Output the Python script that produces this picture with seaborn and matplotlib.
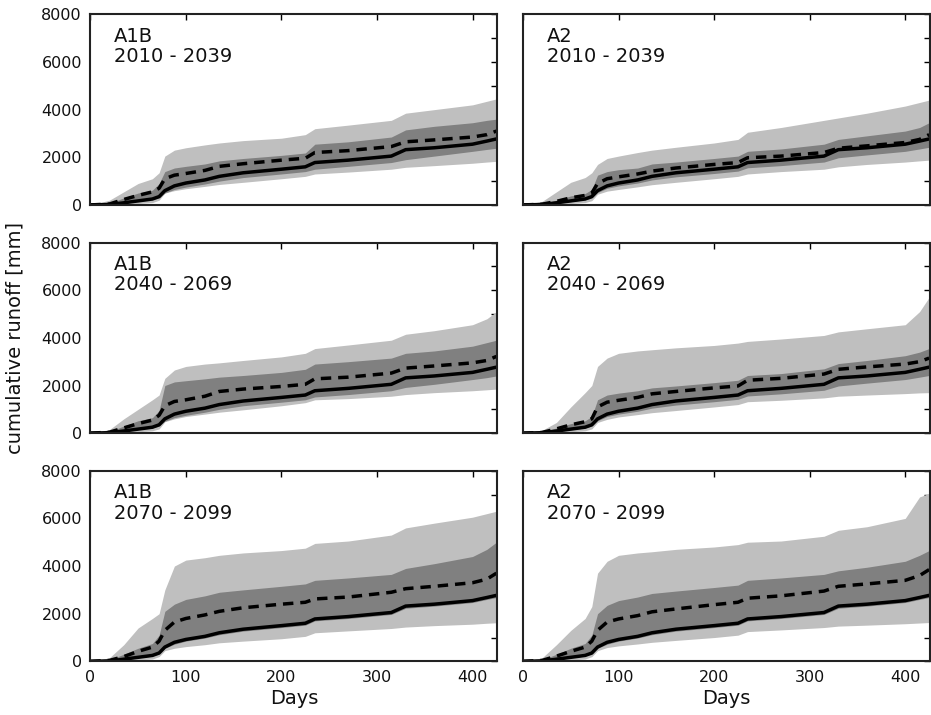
import numpy as np
import pandas as pd
import seaborn as sns
import matplotlib.pyplot as plt

# Day grid the curves were read on
days = [0, 20, 35, 50, 65, 72, 78, 88, 100, 120, 135, 160, 200, 225, 235, 270, 315, 330, 360, 400, 415, 425]

# Reference (observed) cumulative runoff, same in every panel
baseline = [0, 20, 90, 170, 250, 350, 600, 800, 920, 1050, 1200, 1350, 1500, 1600, 1780, 1880, 2050, 2320, 2400, 2550, 2680, 2770]

# A1B 2010-2039
a1b_2010_med = [0, 40, 230, 400, 550, 700, 1100, 1250, 1320, 1450, 1620, 1730, 1880, 1960, 2200, 2280, 2450, 2650, 2730, 2850, 2950, 3100]
a1b_2010_in_hi = [0, 60, 300, 500, 620, 900, 1400, 1550, 1620, 1720, 1850, 1950, 2080, 2180, 2550, 2650, 2850, 3150, 3300, 3450, 3550, 3600]
a1b_2010_in_lo = [0, 10, 60, 150, 220, 300, 500, 650, 750, 880, 1000, 1150, 1300, 1400, 1500, 1620, 1780, 1900, 2050, 2250, 2330, 2380]
a1b_2010_out_hi = [0, 200, 550, 900, 1100, 1350, 2050, 2300, 2400, 2520, 2600, 2700, 2800, 2950, 3200, 3350, 3550, 3850, 4000, 4200, 4350, 4450]
a1b_2010_out_lo = [0, 0, 20, 60, 100, 200, 500, 600, 680, 780, 860, 950, 1100, 1200, 1300, 1380, 1500, 1580, 1650, 1750, 1800, 1830]

# A2 2010-2039
a2_2010_med = [0, 30, 150, 300, 400, 500, 900, 1100, 1180, 1300, 1420, 1550, 1700, 1780, 1980, 2050, 2200, 2380, 2480, 2620, 2750, 2950]
a2_2010_in_hi = [0, 40, 200, 380, 480, 650, 1250, 1400, 1480, 1550, 1720, 1800, 1950, 2050, 2250, 2350, 2550, 2750, 2900, 3100, 3250, 3450]
a2_2010_in_lo = [0, 10, 60, 140, 220, 300, 520, 700, 800, 920, 1050, 1180, 1320, 1420, 1560, 1650, 1800, 1980, 2100, 2250, 2350, 2420]
a2_2010_out_hi = [0, 150, 550, 950, 1150, 1350, 1700, 1950, 2050, 2200, 2300, 2420, 2600, 2750, 3050, 3250, 3550, 3650, 3850, 4150, 4300, 4400]
a2_2010_out_lo = [0, 0, 20, 60, 100, 180, 450, 580, 650, 760, 850, 950, 1100, 1200, 1300, 1400, 1500, 1600, 1700, 1800, 1850, 1880]

# A1B 2040-2069
a1b_2040_med = [0, 40, 220, 400, 550, 750, 1150, 1330, 1400, 1550, 1750, 1850, 1960, 2050, 2280, 2350, 2520, 2730, 2820, 2950, 3050, 3220]
a1b_2040_in_hi = [0, 60, 300, 520, 650, 950, 2000, 2150, 2200, 2280, 2350, 2420, 2550, 2680, 2900, 3000, 3150, 3350, 3450, 3650, 3800, 3900]
a1b_2040_in_lo = [0, 10, 60, 150, 220, 300, 500, 650, 750, 880, 1000, 1150, 1300, 1400, 1520, 1620, 1780, 1920, 2050, 2250, 2330, 2400]
a1b_2040_out_hi = [0, 150, 600, 1000, 1400, 1600, 2300, 2650, 2800, 2900, 2950, 3050, 3200, 3350, 3550, 3700, 3900, 4150, 4300, 4550, 4800, 5100]
a1b_2040_out_lo = [0, 0, 20, 60, 100, 180, 480, 600, 700, 800, 880, 980, 1150, 1280, 1400, 1450, 1550, 1620, 1700, 1780, 1820, 1850]

# A2 2040-2069
a2_2040_med = [0, 30, 180, 350, 480, 600, 1100, 1300, 1380, 1500, 1650, 1750, 1900, 1980, 2220, 2300, 2480, 2680, 2780, 2900, 3000, 3150]
a2_2040_in_hi = [0, 40, 220, 400, 520, 700, 1400, 1600, 1680, 1780, 1900, 1980, 2120, 2220, 2420, 2500, 2700, 2920, 3050, 3250, 3400, 3550]
a2_2040_in_lo = [0, 10, 60, 140, 220, 300, 520, 700, 800, 920, 1050, 1180, 1320, 1420, 1560, 1650, 1800, 1980, 2100, 2250, 2350, 2420]
a2_2040_out_hi = [0, 120, 450, 1100, 1700, 2000, 2800, 3150, 3350, 3450, 3500, 3580, 3680, 3780, 3850, 3950, 4100, 4250, 4380, 4550, 5100, 5700]
a2_2040_out_lo = [0, 0, 20, 60, 100, 180, 450, 580, 680, 780, 860, 950, 1100, 1200, 1320, 1380, 1480, 1550, 1600, 1660, 1690, 1700]

# A1B 2070-2099
a1b_2070_med = [0, 40, 200, 420, 600, 850, 1300, 1650, 1800, 1950, 2100, 2250, 2400, 2480, 2620, 2700, 2900, 3050, 3150, 3300, 3450, 3700]
a1b_2070_in_hi = [0, 60, 300, 550, 750, 1100, 2100, 2400, 2600, 2750, 2900, 3000, 3150, 3250, 3400, 3500, 3650, 3900, 4100, 4400, 4700, 5000]
a1b_2070_in_lo = [0, 10, 60, 150, 220, 320, 550, 720, 850, 980, 1120, 1270, 1420, 1520, 1700, 1800, 1970, 2230, 2320, 2470, 2600, 2680]
a1b_2070_out_hi = [0, 150, 700, 1400, 1800, 2000, 3000, 4000, 4250, 4350, 4450, 4550, 4650, 4750, 4950, 5050, 5300, 5600, 5800, 6050, 6200, 6300]
a1b_2070_out_lo = [0, 0, 20, 60, 100, 200, 450, 550, 620, 700, 780, 850, 950, 1050, 1200, 1280, 1380, 1440, 1500, 1560, 1600, 1620]

# A2 2070-2099
a2_2070_med = [0, 40, 220, 420, 600, 850, 1300, 1650, 1780, 1920, 2080, 2200, 2380, 2480, 2650, 2750, 2950, 3150, 3250, 3400, 3600, 3850]
a2_2070_in_hi = [0, 60, 300, 550, 750, 1100, 2000, 2350, 2550, 2700, 2850, 2950, 3100, 3200, 3400, 3500, 3650, 3800, 3950, 4200, 4450, 4650]
a2_2070_in_lo = [0, 10, 60, 150, 220, 320, 550, 720, 850, 980, 1120, 1270, 1420, 1520, 1700, 1800, 1970, 2230, 2320, 2470, 2600, 2680]
a2_2070_out_hi = [0, 150, 700, 1300, 1800, 2300, 3700, 4200, 4450, 4550, 4600, 4700, 4800, 4900, 5000, 5050, 5250, 5500, 5650, 6000, 6900, 7050]
a2_2070_out_lo = [0, 0, 20, 60, 100, 200, 450, 580, 650, 730, 800, 880, 1000, 1100, 1250, 1320, 1420, 1480, 1520, 1580, 1610, 1630]

scenarios = ["A1B", "A2"]
periods = ["2010 - 2039", "2040 - 2069", "2070 - 2099"]
panels = [
    [(a1b_2010_med, a1b_2010_in_lo, a1b_2010_in_hi, a1b_2010_out_lo, a1b_2010_out_hi),
     (a2_2010_med, a2_2010_in_lo, a2_2010_in_hi, a2_2010_out_lo, a2_2010_out_hi)],
    [(a1b_2040_med, a1b_2040_in_lo, a1b_2040_in_hi, a1b_2040_out_lo, a1b_2040_out_hi),
     (a2_2040_med, a2_2040_in_lo, a2_2040_in_hi, a2_2040_out_lo, a2_2040_out_hi)],
    [(a1b_2070_med, a1b_2070_in_lo, a1b_2070_in_hi, a1b_2070_out_lo, a1b_2070_out_hi),
     (a2_2070_med, a2_2070_in_lo, a2_2070_in_hi, a2_2070_out_lo, a2_2070_out_hi)],
]

sns.set_style("white", {"xtick.direction": "in", "ytick.direction": "in",
                        "axes.edgecolor": "black", "text.color": "#111111",
                        "xtick.color": "#111111", "ytick.color": "#111111",
                        "axes.labelcolor": "#111111"})
plt.rcParams["font.family"] = ["DejaVu Sans"]

fig, axes = plt.subplots(3, 2, figsize=(9.31, 7.15), dpi=100, sharex=True, sharey=True)
fig.subplots_adjust(left=0.097, right=0.999, bottom=0.075, top=0.98, wspace=0.063, hspace=0.197)

for i, period in enumerate(periods):
    for j, scen in enumerate(scenarios):
        ax = axes[i, j]
        med, in_lo, in_hi, out_lo, out_hi = panels[i][j]
        ax.fill_between(days, out_lo, out_hi, color="0.75", lw=0)
        ax.fill_between(days, in_lo, in_hi, color="0.5", lw=0)
        df = pd.DataFrame({"day": days, "base": baseline, "med": med})
        sns.lineplot(data=df, x="day", y="base", ax=ax, color="black", lw=2.5)
        sns.lineplot(data=df, x="day", y="med", ax=ax, color="black", lw=2.5,
                     linestyle=(0, (3, 2)))
        ax.text(0.059, 0.935, f"{scen}\n{period}", transform=ax.transAxes,
                fontsize=14, va="top", ha="left", linespacing=1.1, color="#111111")
        ax.set_xlim(0, 426)
        ax.set_ylim(0, 8000)
        ax.set_xticks([0, 100, 200, 300, 400])
        ax.set_yticks([0, 2000, 4000, 6000, 8000])
        ax.set_yticks([1000, 3000, 5000, 7000], minor=True)
        ax.tick_params(which="both", direction="in", top=True, right=True,
                       length=4.5, width=1, labelsize=11.5, pad=6,
                       color="black", labelcolor="#111111")
        for s in ax.spines.values():
            s.set_linewidth(1.5)
            s.set_color("#222222")
        ax.set_xlabel("")
        ax.set_ylabel("")

for ax in axes[-1]:
    ax.set_xlabel("Days", fontsize=14, labelpad=3)
axes[1, 0].set_ylabel("cumulative runoff [mm]", fontsize=14, labelpad=12)

plt.savefig("out.png", dpi=100)
